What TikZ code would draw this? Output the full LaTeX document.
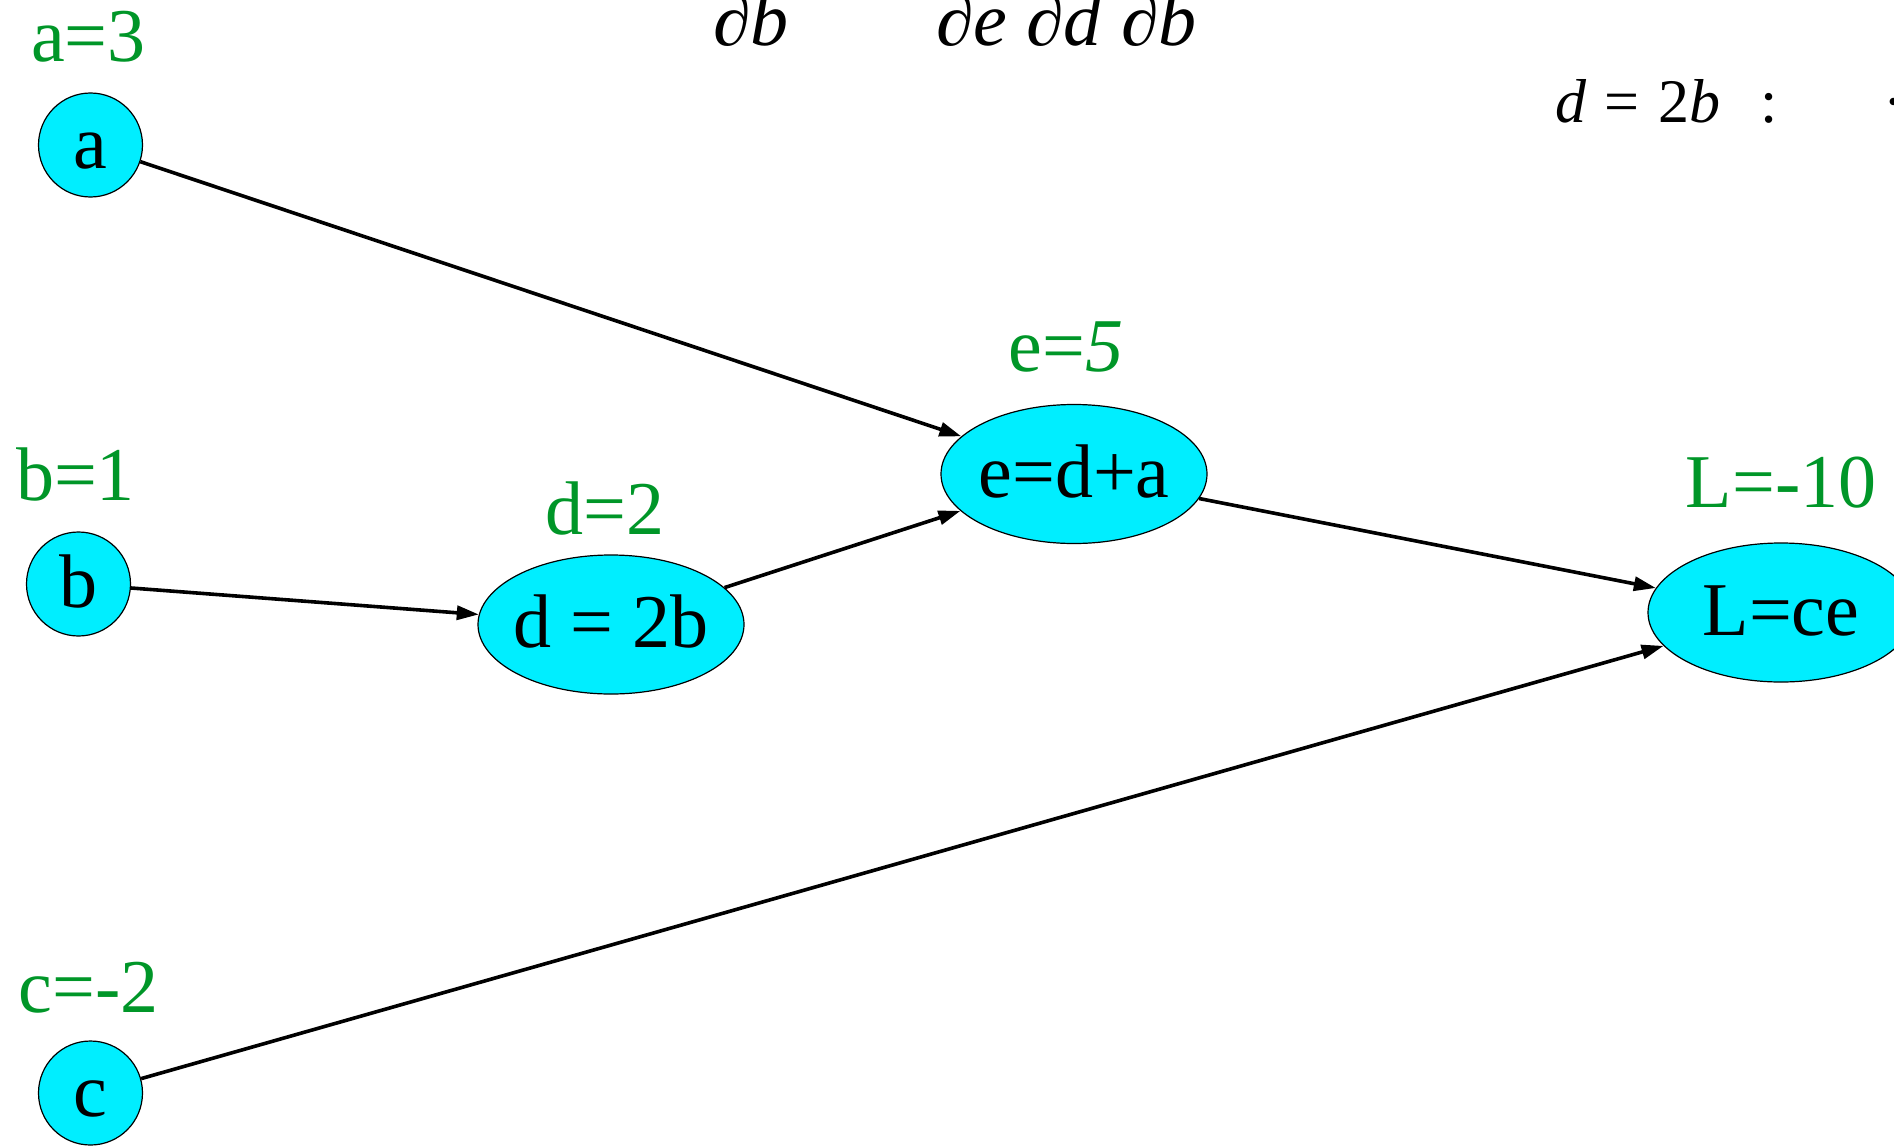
\documentclass[tikz,border=0pt]{standalone}
\usepackage{fontspec}
\setmainfont{Liberation Serif}
\usetikzlibrary{positioning,arrows.meta,shapes.geometric}
\definecolor{nodecyan}{RGB}{0,238,255}
\definecolor{valgreen}{RGB}{0,150,40}
\newcommand{\bigsize}{\fontsize{76}{80}\selectfont}
\newcommand{\midsize}{\fontsize{62}{66}\selectfont}
\tikzset{
  var/.style={circle,draw,fill=nodecyan,line width=1.2pt,inner sep=0pt,minimum size=104pt,font=\bigsize,text height=46pt,text depth=0pt},
  op/.style={ellipse,draw,fill=nodecyan,line width=1.2pt,inner sep=0pt,inner xsep=-6pt,minimum width=266pt,minimum height=139pt,font=\bigsize,text height=46pt,text depth=0pt},
  val/.style={text=valgreen,inner sep=0pt,text depth=0pt,font=\bigsize},
  flow/.style={-{Triangle[length=22pt,width=14pt]},line width=3.6pt},
  part/.style={inner sep=0pt,anchor=base west,font=\bigsize},
}

\begin{document}
\begin{tikzpicture}[x=1pt,y=-1pt]
  \useasboundingbox (0,0) rectangle (1894,1145);
  \clip (0,0) rectangle (1894,1145);
  % inputs and operations
  \node[var] (a) at (90.5,145) {a};
  \node[var] (b) at (78.5,584) {b};
  \node[var] (c) at (90.5,1093) {c};
  \node[op] (d) at (611,624.5) {d = 2b};
  \node[op] (e) at (1074,474) {e=d+a};
  \node[op] (L) at (1781,612.5) {L=ce};
  % forward values
  \node[val,above=31pt of a,xshift=-2pt] (va) {a=3};
  \node[val,above=31pt of b,xshift=-3pt] (vb) {b=1};
  \node[val,above=28pt of c,xshift=-2pt] (vc) {c=-2};
  \node[val,above=20pt of d,xshift=-6pt] (vd) {d=2};
  \node[val,above=32pt of e,xshift=-8pt] (ve) {e=\textit{5}};
  \node[val,above=35pt of L] (vL) {L=-10};
  % edges
  \draw[flow] (a)--(e); \draw[flow] (b)--(d); \draw[flow] (d)--(e);
  \draw[flow] (e)--(L); \draw[flow] (c)--(L);
  % cut-off text along the top
  \node[part] (t1) at (713,46) {\textit{∂b}};
  \node[part] (t2) at (936,46) {\textit{∂e}};
  \node[part] (t3) at (1026,46) {\textit{∂d}};
  \node[part] (t4) at (1121,46) {\textit{∂b}};
  \node[part,font=\midsize] (t5) at (1555,122) {\textit{d}\hspace{0.3em}=\hspace{0.3em}2\textit{b}\hspace{40pt}:};
  \node[inner sep=0pt,anchor=base,font=\midsize] (t6) at (1894,122) {·};
\end{tikzpicture}
\end{document}
